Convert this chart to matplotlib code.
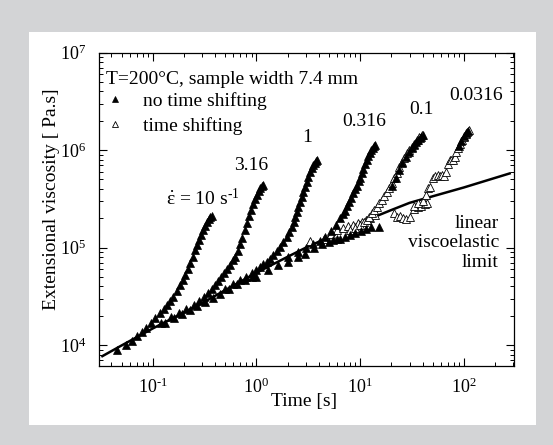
import matplotlib
matplotlib.use("Agg")
import matplotlib.pyplot as plt
from matplotlib.patches import Rectangle
from matplotlib.lines import Line2D
from matplotlib.ticker import LogLocator, FuncFormatter, NullFormatter
import numpy as np

plt.rcParams['font.family'] = ['Liberation Serif', 'DejaVu Serif']
plt.rcParams['mathtext.fontset'] = 'custom'
plt.rcParams['mathtext.rm'] = 'Liberation Serif'
plt.rcParams['mathtext.it'] = 'Liberation Serif:italic'

# linear viscoelastic limit
lve_t = [0.0327, 0.05, 0.1, 0.2, 0.316, 0.5, 1, 2, 3, 5, 10, 20, 30, 50, 100, 200, 277]
lve_eta = [7700, 9900, 14800, 21600, 27800, 36600, 55200, 80500, 100000, 128000,
           180000, 243000, 288000, 336000, 414000, 519000, 577000]

# rate 10 1/s (no time shifting)
t_10 = [0.045, 0.055, 0.063, 0.07, 0.078, 0.087, 0.096, 0.105, 0.118, 0.128, 0.136, 0.147,
        0.158, 0.170, 0.183, 0.194, 0.205, 0.217, 0.229, 0.242, 0.256, 0.268, 0.28, 0.294,
        0.308, 0.322, 0.335, 0.348, 0.36, 0.371]
eta_10 = [8900, 10000, 11000, 12500, 13500, 14800, 17000, 18800, 21100, 23500, 25700, 28500,
          31300, 36000, 41000, 46000, 52000, 60000, 70000, 81000, 94000, 107000, 121000, 136000,
          151000, 168000, 184000, 198000, 208000, 213000]

# rate 3.16 1/s
t_316 = [0.12, 0.15, 0.18, 0.21, 0.25, 0.28, 0.31, 0.34, 0.37, 0.40, 0.43, 0.46, 0.49, 0.52,
         0.56, 0.59, 0.62, 0.66, 0.70, 0.73, 0.77, 0.81, 0.85, 0.89, 0.93, 0.97, 1.01, 1.05,
         1.09, 1.12, 1.15]
eta_316 = [17000, 19500, 21500, 23500, 26000, 28500, 31000, 34500, 38000, 41500, 45500, 50000,
           54500, 60000, 67000, 74000, 81000, 92000, 110000, 126000, 150000, 177000, 210000,
           245000, 282000, 318000, 350000, 380000, 410000, 428000, 438000]

# rate 1 1/s
t_1 = [0.5, 0.6, 0.7, 0.8, 0.9, 1.0, 1.08, 1.17, 1.26, 1.35, 1.45, 1.57, 1.69, 1.82, 1.96, 2.08,
       2.19, 2.28, 2.36, 2.45, 2.54, 2.63, 2.73, 2.83, 2.94, 3.05, 3.17, 3.29, 3.41, 3.53, 3.65,
       3.75, 3.81]
eta_1 = [37500, 42000, 46500, 50500, 55000, 59500, 63600, 67500, 71600, 77000, 83700, 92000,
         102000, 114000, 129000, 146000, 163000, 184000, 207000, 233000, 262000, 296000, 332000,
         375000, 421000, 475000, 532000, 590000, 649000, 700000, 745000, 775000, 789000]

# rate 0.316 1/s
t_0316 = [2.0, 2.5, 3.0, 3.5, 4.1, 4.6, 5.2, 5.8, 6.4, 6.8, 7.1, 7.5, 7.8, 8.2, 8.6, 9.0, 9.3,
          9.7, 10.0, 10.4, 10.7, 11.2, 11.6, 12.0, 12.4, 12.8, 13.2, 13.6, 13.9]
eta_0316 = [80000, 90000, 100000, 108000, 118000, 130000, 148000, 172000, 200000, 222000, 240000,
            268000, 292000, 325000, 360000, 398000, 430000, 480000, 520000, 580000, 640000,
            720000, 800000, 870000, 940000, 1000000, 1050000, 1100000, 1120000]

# rate 0.1 1/s, time shifted (open) and unshifted (filled)
t_01_open = [8, 9, 10, 11, 11.6, 12.3, 13.0, 13.7, 14.5, 15.3, 16.2, 17.1, 18.1, 19.1, 20.2, 21.4,
             22.6, 23.8, 25.1, 26.6, 28.1, 29.8, 31.6, 33.4, 35.2, 37.2, 39.3]
eta_01_open = [150000, 160000, 172000, 183000, 191000, 205000, 224000, 243000, 262000, 284000,
               307000, 340000, 374000, 412000, 455000, 515000, 577000, 665000, 759000, 840000,
               925000, 1000000, 1080000, 1170000, 1270000, 1350000, 1430000]
t_01_filled = [20.5, 22.0, 23.5, 25.5, 27.5, 29.5, 31.5, 33.0, 34.5, 36.0, 37.5, 39.0, 40.5]
eta_01_filled = [430000, 520000, 620000, 740000, 860000, 960000, 1060000, 1130000, 1200000,
                 1260000, 1320000, 1380000, 1440000]

# rate 0.0316 1/s
t_00316_open = [33, 36, 40, 43, 45.5, 47.2, 50, 53, 56, 59, 62, 65, 68, 70, 73, 76, 79, 82, 85,
                88, 92, 96, 100, 104, 108, 112]
eta_00316_open = [270000, 285000, 300000, 345000, 405000, 420000, 520000, 540000, 550000, 540000,
                  550000, 545000, 600000, 720000, 790000, 800000, 790000, 850000, 950000,
                  1050000, 1150000, 1270000, 1380000, 1480000, 1550000, 1600000]
t_00316_filled = [90, 95, 100, 105, 110]
eta_00316_filled = [1100000, 1250000, 1400000, 1500000, 1580000]

# scattered points near the linear limit
t_lve_filled = [0.13, 0.16, 0.19, 0.23, 0.27, 0.32, 0.38, 0.45, 0.55, 0.65, 0.78, 0.9, 1.0, 1.3,
                1.63, 2.03, 2.54, 2.94, 3.6, 4.3, 5.0, 5.5, 6.0, 6.4, 7.1, 8.0, 9.0, 10.2, 11.5,
                12.8, 15.3]
eta_lve_filled = [17000, 19000, 20700, 22800, 25000, 27500, 30500, 33500, 38000, 42500, 47000,
                  50000, 50000, 58700, 66000, 71600, 80500, 87000, 98000, 108000, 114000, 119000,
                  122000, 124000, 128000, 134000, 140000, 147000, 155000, 163000, 163000]
t_lve_open = [3.3, 4.5, 5.2, 6.0, 6.8, 7.6, 8.5, 9.5, 10.5, 11.5, 12.5, 14, 21, 22.5, 24, 26,
              28, 30, 33, 36, 39, 42, 44]
eta_lve_open = [118000, 122000, 138000, 150000, 160000, 165000, 172000, 178000, 185000, 190000,
                200000, 215000, 224000, 205000, 210000, 200000, 196000, 205000, 251000, 262000,
                270000, 280000, 290000]

rate_labels = ['3.16', '1', '0.316', '0.1', '0.0316']
label_t = [0.893, 3.11, 11.0, 39.3, 130]
label_eta = [702000, 1340000, 1950000, 2630000, 3620000]

W, H = 553, 445
fig = plt.figure(figsize=(W / 100, H / 100), dpi=100, facecolor='#d3d4d6')
fig.patches.append(Rectangle((29 / W, 1 - 425 / H), (536 - 29) / W, (425 - 31.7) / H,
                             transform=fig.transFigure, facecolor='white', edgecolor='none',
                             zorder=-1))
ax = fig.add_axes([98.8 / W, 1 - 366 / H, (514.3 - 98.8) / W, (366 - 52.7) / H])

ax.set_xscale('log')
ax.set_yscale('log')
ax.set_xlim(0.0302, 307)
ax.set_ylim(6100, 1e7)

ax.plot(lve_t, lve_eta, color='black', lw=1.8, zorder=3)

ms = 5.2
filled = dict(marker='^', ls='none', ms=ms, mfc='black', mec='black', mew=0.5, zorder=4)
openm = dict(marker='^', ls='none', ms=ms, mfc='white', mec='black', mew=0.6, zorder=4)

ax.plot(t_lve_open, eta_lve_open, **openm)
ax.plot(t_01_open, eta_01_open, **openm)
ax.plot(t_00316_open, eta_00316_open, **openm)
ax.plot(t_lve_filled, eta_lve_filled, **filled)
for tt, ee in [(t_10, eta_10), (t_316, eta_316), (t_1, eta_1), (t_0316, eta_0316),
               (t_01_filled, eta_01_filled), (t_00316_filled, eta_00316_filled)]:
    ax.plot(tt, ee, **filled)

fs = 14
ax.text(0.134, 3.2e5, '$\\dot{\\mathrm{\\varepsilon}}$ = 10 s$^{\\mathdefault{\u2010}1}$',
        fontsize=fs, ha='left', va='center')
for lab, tt, ee in zip(rate_labels, label_t, label_eta):
    ax.text(tt, ee, lab, fontsize=fs, ha='center', va='center')
ax.text(218, 1.12e5, 'linear\nviscoelastic\nlimit', fontsize=fs, ha='right', va='center',
        multialignment='right', linespacing=1.2)

ax.text(0.017, 0.915, 'T=200\u00b0C, sample width 7.4 mm', transform=ax.transAxes,
        fontsize=fs, ha='left', va='center')
handles = [Line2D([], [], **filled), Line2D([], [], **openm)]
ax.legend(handles, ['no time shifting', 'time shifting'], loc='upper left',
          bbox_to_anchor=(0.015, 0.874), frameon=False, fontsize=fs, handlelength=1.0,
          handletextpad=0.95, labelspacing=0.36, borderaxespad=0, borderpad=0,
          markerscale=0.85)


def log_fmt(val, pos):
    e = int(round(np.log10(val)))
    s = str(e).replace('-', '\u2010')
    return '$\\mathdefault{10^{%s}}$' % s


ax.xaxis.set_major_locator(LogLocator(base=10, numticks=10))
ax.xaxis.set_minor_locator(LogLocator(base=10, subs=range(2, 10), numticks=20))
ax.yaxis.set_major_locator(LogLocator(base=10, numticks=10))
ax.yaxis.set_minor_locator(LogLocator(base=10, subs=range(2, 10), numticks=20))
ax.xaxis.set_major_formatter(FuncFormatter(log_fmt))
ax.yaxis.set_major_formatter(FuncFormatter(log_fmt))
ax.xaxis.set_minor_formatter(NullFormatter())
ax.yaxis.set_minor_formatter(NullFormatter())
ax.tick_params(which='both', direction='in', top=True, right=True, labelsize=13)
ax.tick_params(which='major', length=6, width=0.8)
ax.tick_params(which='minor', length=3, width=0.7)
ax.tick_params(axis='x', which='major', pad=8)
ax.tick_params(axis='y', which='major', pad=9)
for s in ax.spines.values():
    s.set_linewidth(0.9)

ax.set_xlabel('Time [s]', fontsize=fs)
ax.set_ylabel('Extensional viscosity [ Pa.s]', fontsize=fs)
ax.xaxis.set_label_coords(0.494, -0.085)
ax.yaxis.set_label_coords(-0.093, 0.533)

fig.savefig('out.png', dpi=100, facecolor=fig.get_facecolor())
